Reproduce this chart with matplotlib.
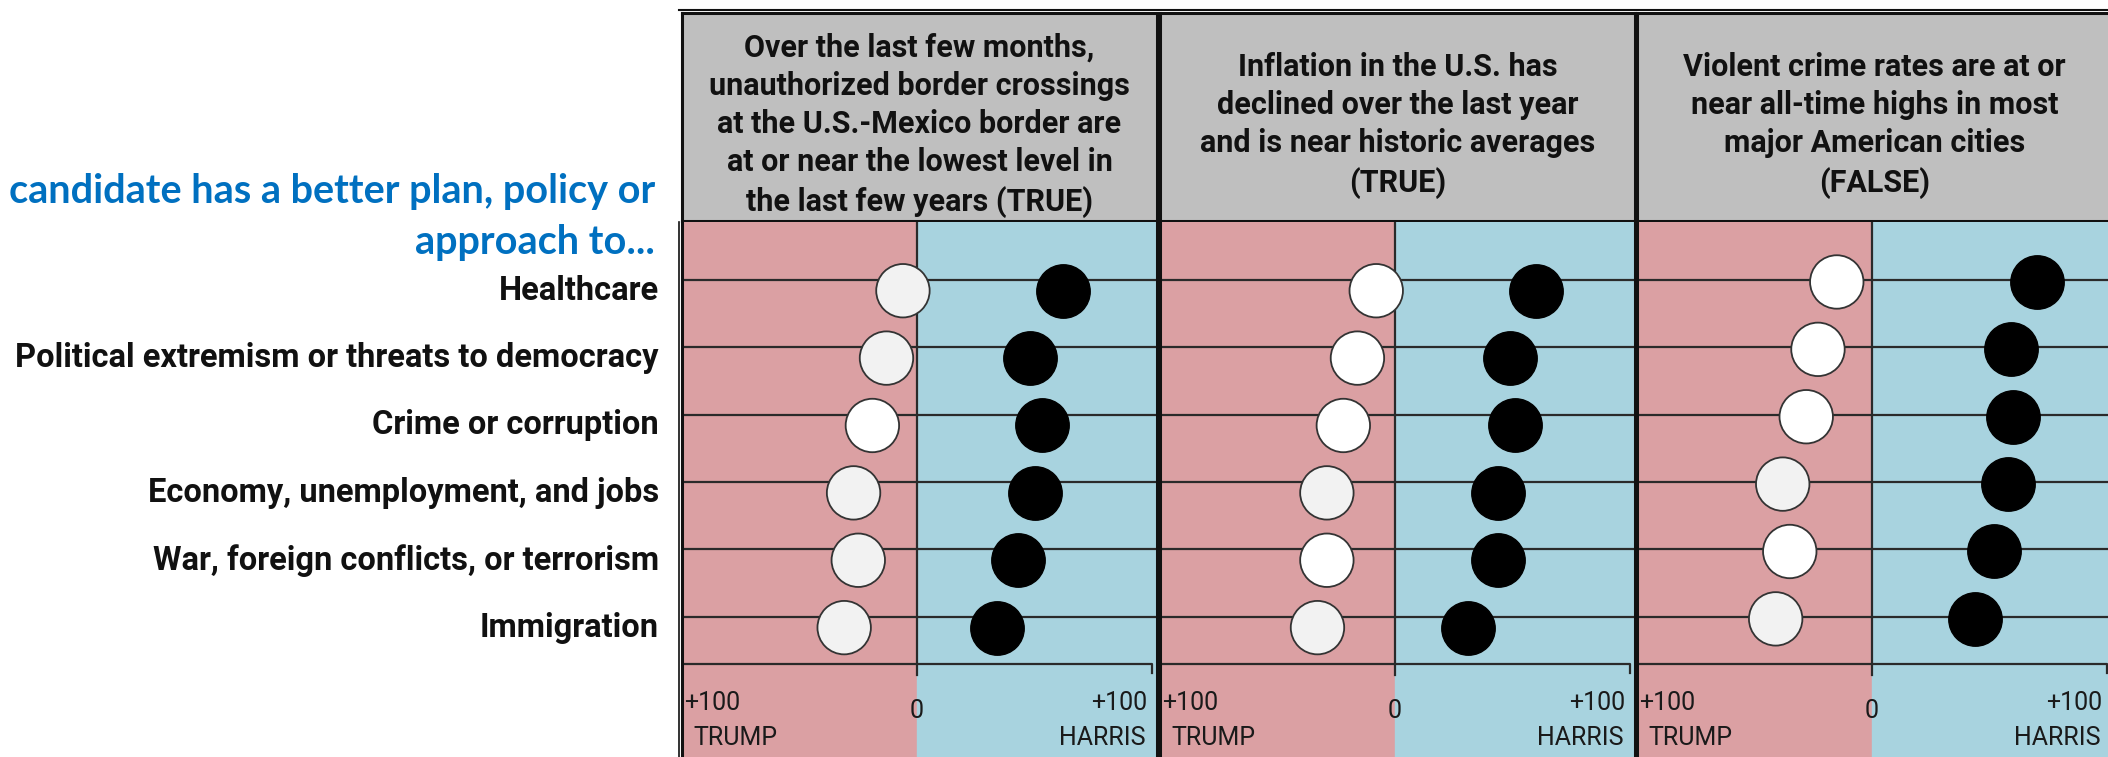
import matplotlib.pyplot as plt
from matplotlib.lines import Line2D

# ---- data -------------------------------------------------------------
categories = ["Healthcare",
              "Political extremism or threats to democracy",
              "Crime or corruption",
              "Economy, unemployment, and jobs",
              "War, foreign conflicts, or terrorism",
              "Immigration"]

headers = ["Over the last few months,\nunauthorized border crossings\nat the U.S.-Mexico border are\nat or near the lowest level in\nthe last few years (TRUE)",
           "Inflation in the U.S. has\ndeclined over the last year\nand is near historic averages\n(TRUE)",
           "Violent crime rates are at or\nnear all-time highs in most\nmajor American cities\n(FALSE)"]

white_border = [-6, -13, -19, -27, -25, -31]
black_border = [62, 48, 53, 50, 43, 34]
white_inflation = [-8, -16, -22, -29, -29, -33]
black_inflation = [60, 49, 51, 44, 44, 31]
white_crime = [-15, -23, -28, -38, -35, -41]
black_crime = [70, 59, 60, 58, 52, 44]

white_fill_border = ['#f2f2f2', '#f2f2f2', '#ffffff', '#f2f2f2', '#f2f2f2', '#f2f2f2']
white_fill_other = ['#ffffff', '#ffffff', '#ffffff', '#f2f2f2', '#ffffff', '#f2f2f2']

panels = [(white_border, black_border, white_fill_border, 0.16),
          (white_inflation, black_inflation, white_fill_other, 0.16),
          (white_crime, black_crime, white_fill_other, 0.03)]

title_lines = ["candidate has a better plan, policy or", "approach to..."]

# ---- layout -----------------------------------------------------------
W, H = 2108, 757
fig = plt.figure(figsize=(W / 100, H / 100), dpi=100)
fig.patch.set_facecolor('white')

PINK = '#DBA0A3'
BLUE = '#A8D3DF'
GRAY = '#BFBFBF'
LINE = '#2a2a2a'
FONT = ['Roboto', 'DejaVu Sans']


def px_axes(x, y, w, h):
    return fig.add_axes([x / W, 1 - (y + h) / H, w / W, h / H])


lefts = [682, 1160, 1637]
pw = 475
rows = range(len(categories))

for k, (left, (wv, bv, wfill, off)) in enumerate(zip(lefts, panels)):
    # header box
    hx = px_axes(left, 13, pw, 208)
    hx.set_facecolor(GRAY)
    hx.set_xticks([])
    hx.set_yticks([])
    for s in hx.spines.values():
        s.set_linewidth(2.2)
        s.set_color('#111')
    hx.text(0.5, 0.46, headers[k], ha='center', va='center', fontsize=22,
            fontweight='bold', linespacing=1.34, family=FONT, color='#111')

    # body
    ax = px_axes(left, 222, pw, 535)
    ax.set_xlim(-100, 102.1)
    ax.set_ylim(7.08, -0.86)
    ax.axvspan(-100, 0, color=PINK, zorder=0)
    ax.axvspan(0, 102.1, color=BLUE, zorder=0)
    ax.set_xticks([])
    ax.set_yticks([])
    for side in ['top', 'bottom']:
        ax.spines[side].set_visible(False)
    for side in ['left', 'right']:
        ax.spines[side].set_linewidth(2.2)
        ax.spines[side].set_color('#111')

    for i in rows:
        ax.axhline(i, color=LINE, lw=1.6, zorder=1)
    ax.plot([0, 0], [-0.86, 5.86], color=LINE, lw=1.6, zorder=1)
    ax.plot([-100, -100, 100, 100], [5.84, 5.70, 5.70, 5.84], color=LINE, lw=1.6, zorder=1)

    ys = [i + off for i in rows]
    ax.scatter(wv, ys, s=1480, c=wfill, edgecolors='#333', linewidths=1.3, zorder=3)
    ax.scatter(bv, ys, s=1480, c='black', edgecolors='black', linewidths=1.0, zorder=3)

    # axis labels
    tk = dict(fontsize=18, family=FONT, fontweight='normal', color='#1a1a1a')
    ax.text(-99, 6.28, '+100', ha='left', va='center', **tk)
    ax.text(0, 6.40, '0', ha='center', va='center', **tk)
    ax.text(98, 6.28, '+100', ha='right', va='center', **tk)
    ax.text(-95, 6.80, 'TRUMP', ha='left', va='center', **tk)
    ax.text(97, 6.80, 'HARRIS', ha='right', va='center', **tk)

    if k == 0:
        for i, lab in enumerate(categories):
            ax.text(-109.8, i + off, lab, ha='right', va='center', fontsize=23.5,
                    fontweight='bold', family=FONT, color='#111', clip_on=False)

# double line on top of header strip
fig.add_artist(Line2D([679 / W, 1], [1 - 10 / H, 1 - 10 / H], color='#111', lw=1.5))
fig.add_artist(Line2D([679 / W, 679 / W], [0, 1 - 222 / H], color='#111', lw=1.2))

# blue title
for j, t in enumerate(title_lines):
    fig.text(655 / W, 1 - (192 + 50 * j) / H, t, ha='right', va='center', fontsize=28.5,
             fontweight='bold', color='#0070C0', family=['Lato', 'DejaVu Sans'])

fig.savefig('out.png', dpi=100)
